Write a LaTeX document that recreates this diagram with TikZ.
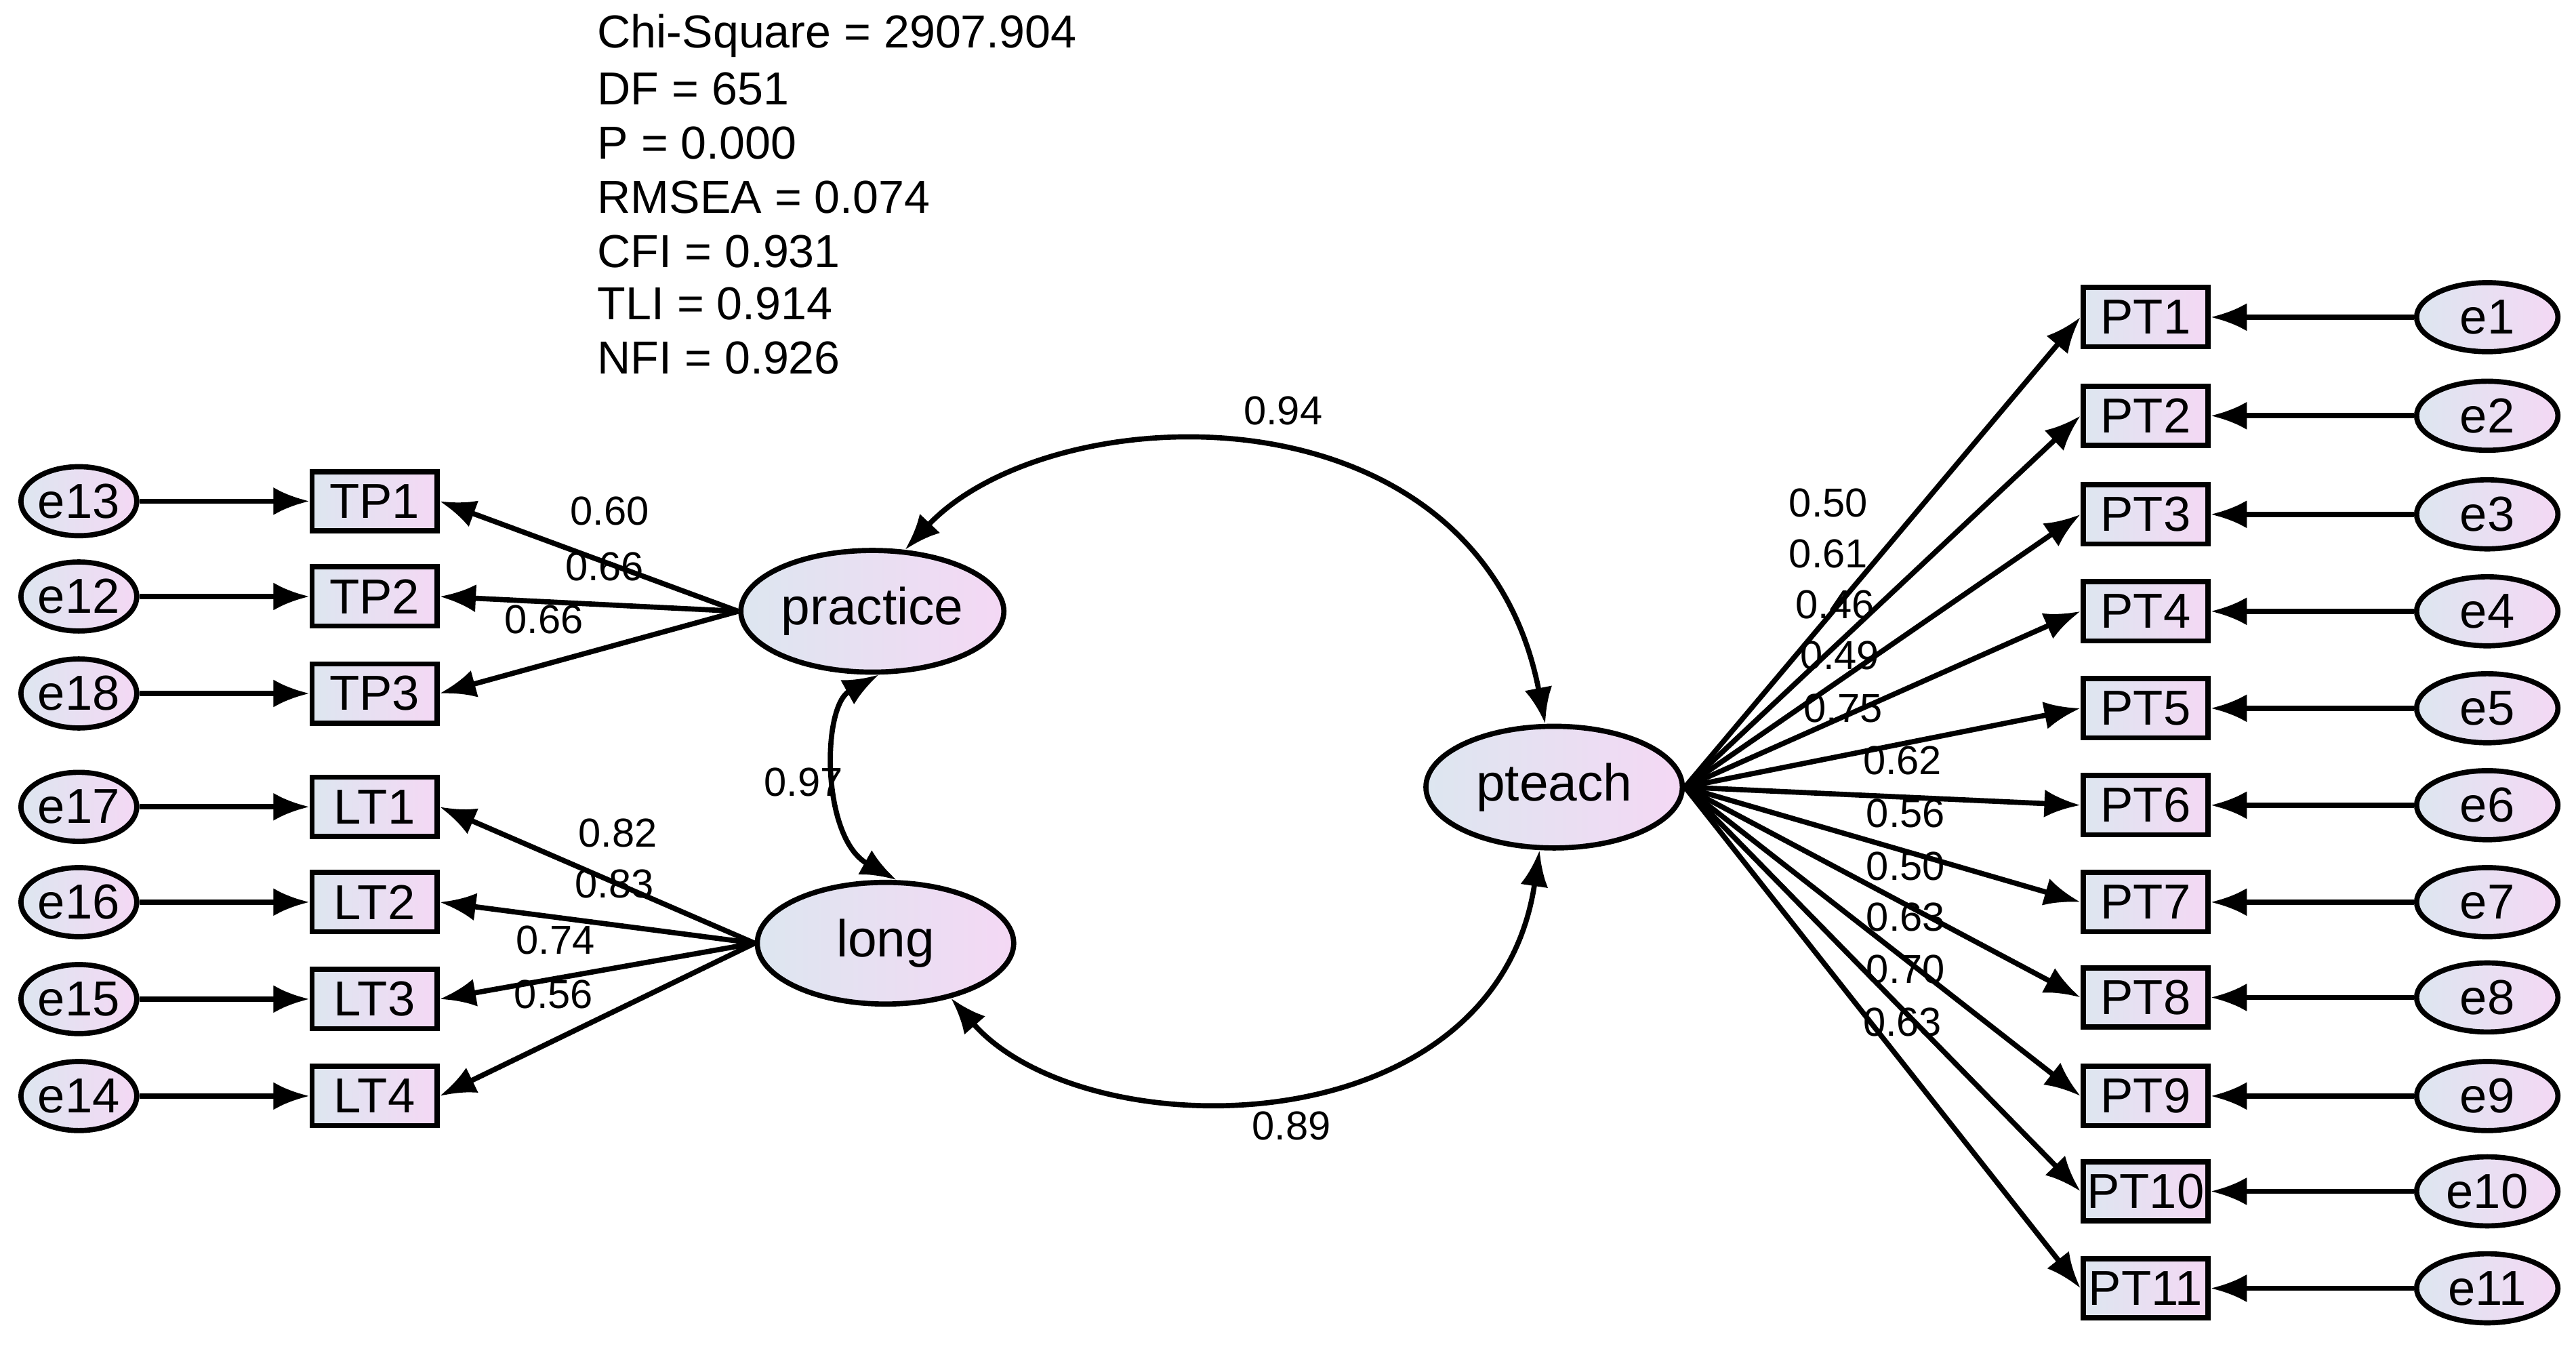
\documentclass[tikz,border=0pt]{standalone}
\usepackage{fontspec}
\setmainfont{Liberation Sans}
\usetikzlibrary{arrows.meta,shapes.geometric}
\definecolor{gl}{HTML}{DDE6F0}
\definecolor{gr}{HTML}{F4D8F4}
\tikzset{
 box/.style={draw,line width=0.9pt,minimum width=0.76cm,minimum height=0.36cm,inner sep=0pt,left color=gl,right color=gr,font=\fontsize{8.5pt}{9pt}\selectfont},
 err/.style={ellipse,draw,line width=0.9pt,minimum width=0.66cm,minimum height=0.42cm,inner sep=0pt,left color=gl,right color=gr,font=\fontsize{8.5pt}{9pt}\selectfont},
 lat/.style={ellipse,draw,line width=0.9pt,minimum width=1.6cm,minimum height=0.74cm,inner sep=0pt,left color=gl,right color=gr,font=\fontsize{9pt}{10pt}\selectfont},
 arr/.style={line width=0.9pt,-{Latex[length=0.22cm,width=0.17cm]}},
 cov/.style={line width=0.9pt,{Latex[length=0.22cm,width=0.17cm]}-{Latex[length=0.22cm,width=0.17cm]}},
 lab/.style={font=\fontsize{7pt}{8pt}\selectfont,inner sep=0pt},
 fit/.style={font=\fontsize{8pt}{9pt}\selectfont,anchor=west,inner sep=0pt}
}
\begin{document}
\begin{tikzpicture}[x=0.01cm,y=-0.01cm]
\useasboundingbox (0,0) rectangle (1568,823);
% fit statistics
\node[fit] (f1) at (363,22) {Chi-Square = 2907.904};
\node[fit] (f2) at (363,54) {DF = 651};
\node[fit] (f3) at (363,87) {P = 0.000};
\node[fit] (f4) at (363,120) {RMSEA = 0.074};
\node[fit] (f5) at (363,153) {CFI = 0.931};
\node[fit] (f6) at (363,185) {TLI = 0.914};
\node[fit] (f7) at (363,218) {NFI = 0.926};
% latent
\node[lat] (practice) at (531,372) {practice};
\node[lat,minimum width=1.56cm] (long) at (539,574) {long};
\node[lat,minimum width=1.56cm] (pteach) at (946,479) {pteach};
% left side
\foreach \b/\e/\y in {TP1/e13/305,TP2/e12/363,TP3/e18/422,LT1/e17/491,LT2/e16/549,LT3/e15/608,LT4/e14/667}{
 \node[box] (\b) at (228,\y) {\b};
 \node[err] (\e) at (48,\y) {\e};
 \draw[arr] (\e) -- (\b);
}
\foreach \b in {TP1,TP2,TP3}{\draw[arr] (practice.west) -- (\b.east);}
\foreach \b in {LT1,LT2,LT3,LT4}{\draw[arr] (long.west) -- (\b.east);}
% right side
\foreach \i/\y in {1/193,2/253,3/313,4/372,5/431,6/490,7/549,8/607,9/667,10/725,11/784}{
 \node[box] (PT\i) at (1306,\y) {PT\i};
 \node[err,minimum width=0.86cm] (e\i) at (1514,\y) {e\i};
 \draw[arr] (e\i) -- (PT\i);
 \draw[arr] (pteach.east) -- (PT\i.west);
}
% loadings labels
\foreach \t/\x/\y in {0.60/371/311,0.66/368/345,0.66/331/377,0.82/376/507,0.83/374/538,0.74/338/572,0.56/337/605,
 0.50/1113/306,0.61/1113/337,0.46/1117/368,0.49/1120/399,0.75/1122/431,0.62/1158/463,0.56/1160/495,0.50/1160/527,0.63/1160/558,0.70/1160/590,0.63/1158/622}{
 \node[lab] at (\x,\y) {\t};
}
% covariances
\draw[cov] (practice.62) .. controls (640,240) and (900,230) .. (pteach.98);
\draw[cov] (long.-40) .. controls (660,700) and (910,700) .. (pteach.-103);
\draw[cov] (practice.-84) .. controls (500,430) and (500,510) .. (long.80);
\node[lab] (c1) at (781,250) {0.94};
\node[lab] (c2) at (786,685) {0.89};
\node[lab] (c3) at (489,476) {0.97};
\end{tikzpicture}
\end{document}
